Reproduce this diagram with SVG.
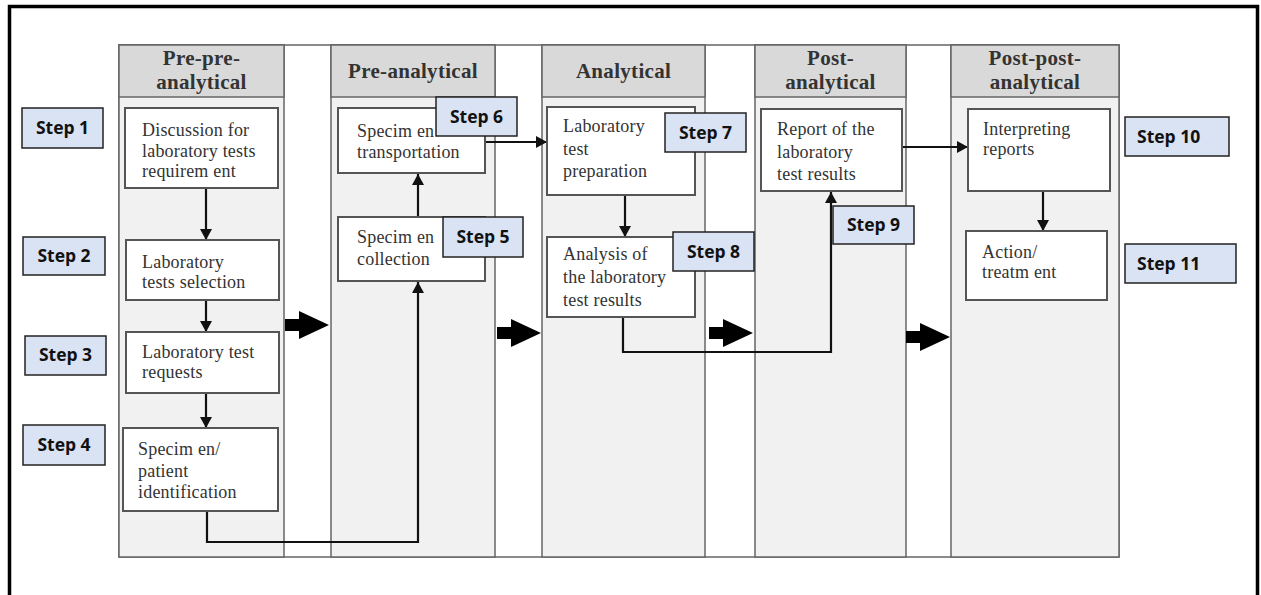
<svg xmlns="http://www.w3.org/2000/svg" width="1261" height="595" viewBox="0 0 1261 595">
  <style>
    .col { fill: #f1f1f1; stroke: #666; stroke-width: 1.5; }
    .hdr { fill: #d9d9d9; stroke: #666; stroke-width: 1.5; }
    .gap { fill: #ffffff; stroke: #666; stroke-width: 1.5; }
    .htxt { font-family: "Liberation Serif", "Times New Roman", serif; font-weight: bold; font-size: 21px; fill: #333; text-anchor: middle; letter-spacing: 0.3px; }
    .box { fill: #ffffff; stroke: #555; stroke-width: 2; }
    .btxt { font-family: "Liberation Serif", "Times New Roman", serif; font-size: 18px; fill: #333; letter-spacing: 0.2px; }
    .badge { fill: #dae3f3; stroke: #222; stroke-width: 1.5; }
    .stxt { font-family: "Open Sans", "Liberation Sans", sans-serif; font-weight: bold; font-size: 17.5px; fill: #111; }
    .link { fill: none; stroke: #111; stroke-width: 2.2; marker-end: url(#head); }
  </style>
  <defs>
    <marker id="head" markerUnits="userSpaceOnUse" markerWidth="12" markerHeight="12" refX="11" refY="6" orient="auto">
      <path d="M0,0 L11,6 L0,12 z" fill="#111"/>
    </marker>
    <path id="block" d="M0,-6 H14 V-14 L44,0 L14,14 V6 H0 z" fill="#000"/>
  </defs>

  <rect width="1261" height="595" fill="#ffffff"/>
  <!-- outer frame (open at the bottom) -->
  <path d="M9.5,595 V6.5 H1257.5 V595" fill="none" stroke="#000" stroke-width="3.5"/>

  <!-- phase lanes -->
  <g id="lanes">
    <rect class="gap" x="119" y="45" width="1000" height="512"/>
    <rect class="col" x="119" y="45" width="165" height="512"/>
    <rect class="hdr" x="119" y="45" width="165" height="52"/>
    <rect class="col" x="331" y="45" width="164" height="512"/>
    <rect class="hdr" x="331" y="45" width="164" height="52"/>
    <rect class="col" x="542" y="45" width="163" height="512"/>
    <rect class="hdr" x="542" y="45" width="163" height="52"/>
    <rect class="col" x="755" y="45" width="151" height="512"/>
    <rect class="hdr" x="755" y="45" width="151" height="52"/>
    <rect class="col" x="951" y="45" width="168" height="512"/>
    <rect class="hdr" x="951" y="45" width="168" height="52"/>
    <text class="htxt" x="201.5" y="65">Pre-pre-</text>
    <text class="htxt" x="201.5" y="89">analytical</text>
    <text class="htxt" x="413" y="78">Pre-analytical</text>
    <text class="htxt" x="623.5" y="78">Analytical</text>
    <text class="htxt" x="830.5" y="65">Post-</text>
    <text class="htxt" x="830.5" y="89">analytical</text>
    <text class="htxt" x="1035" y="65">Post-post-</text>
    <text class="htxt" x="1035" y="89">analytical</text>
  </g>

  <!-- connectors -->
  <g id="connectors">
    <path class="link" d="M206,189 V240"/>
    <path class="link" d="M206,300 V332"/>
    <path class="link" d="M206,393 V428"/>
    <path class="link" d="M207,511 V542 H418 V282"/>
    <path class="link" d="M418,217 V174"/>
    <path class="link" d="M485,142 H547"/>
    <path class="link" d="M625,195 V237"/>
    <path class="link" d="M623,317 V352 H831 V192"/>
    <path class="link" d="M902,147 H968"/>
    <path class="link" d="M1043,191 V231"/>
    <use href="#block" x="285" y="325"/>
    <use href="#block" x="497" y="333"/>
    <use href="#block" x="709" y="333"/>
    <use href="#block" x="906" y="337"/>
  </g>

  <!-- process boxes -->
  <g id="discussion">
    <rect class="box" x="125" y="108" width="153" height="80"/>
    <text class="btxt" x="142" y="136">Discussion for</text>
    <text class="btxt" x="142" y="157">laboratory tests</text>
    <text class="btxt" x="142" y="177">requirem ent</text>
  </g>
  <g id="selection">
    <rect class="box" x="126" y="240" width="153" height="60"/>
    <text class="btxt" x="142" y="268">Laboratory</text>
    <text class="btxt" x="142" y="288">tests selection</text>
  </g>
  <g id="requests">
    <rect class="box" x="126" y="332" width="153" height="61"/>
    <text class="btxt" x="142" y="358">Laboratory test</text>
    <text class="btxt" x="142" y="378">requests</text>
  </g>
  <g id="identification">
    <rect class="box" x="123" y="428" width="155" height="83"/>
    <text class="btxt" x="138" y="455">Specim en/</text>
    <text class="btxt" x="138" y="477">patient</text>
    <text class="btxt" x="138" y="498">identification</text>
  </g>
  <g id="transportation">
    <rect class="box" x="338" y="108" width="147" height="65"/>
    <text class="btxt" x="357" y="137">Specim en</text>
    <text class="btxt" x="357" y="158">transportation</text>
  </g>
  <g id="collection">
    <rect class="box" x="338" y="217" width="147" height="64"/>
    <text class="btxt" x="357" y="243">Specim en</text>
    <text class="btxt" x="357" y="265">collection</text>
  </g>
  <g id="preparation">
    <rect class="box" x="547" y="107" width="148" height="88"/>
    <text class="btxt" x="563" y="132">Laboratory</text>
    <text class="btxt" x="563" y="155">test</text>
    <text class="btxt" x="563" y="177">preparation</text>
  </g>
  <g id="analysis">
    <rect class="box" x="547" y="237" width="148" height="80"/>
    <text class="btxt" x="563" y="260">Analysis of</text>
    <text class="btxt" x="563" y="283">the laboratory</text>
    <text class="btxt" x="563" y="306">test results</text>
  </g>
  <g id="report">
    <rect class="box" x="761" y="109" width="141" height="82"/>
    <text class="btxt" x="777" y="135">Report of the</text>
    <text class="btxt" x="777" y="158">laboratory</text>
    <text class="btxt" x="777" y="180">test results</text>
  </g>
  <g id="interpreting">
    <rect class="box" x="968" y="109" width="142" height="82"/>
    <text class="btxt" x="983" y="135">Interpreting</text>
    <text class="btxt" x="983" y="155">reports</text>
  </g>
  <g id="action">
    <rect class="box" x="966" y="231" width="141" height="69"/>
    <text class="btxt" x="982" y="258">Action/</text>
    <text class="btxt" x="982" y="278">treatm ent</text>
  </g>

  <!-- step labels -->
  <g id="step1"><rect class="badge" x="22" y="108" width="81" height="40"/><text class="stxt" x="62.5" y="134" text-anchor="middle">Step 1</text></g>
  <g id="step2"><rect class="badge" x="23" y="237" width="82" height="38"/><text class="stxt" x="64" y="262" text-anchor="middle">Step 2</text></g>
  <g id="step3"><rect class="badge" x="25" y="336" width="81" height="39"/><text class="stxt" x="65.5" y="361" text-anchor="middle">Step 3</text></g>
  <g id="step4"><rect class="badge" x="23" y="425" width="82" height="40"/><text class="stxt" x="64" y="451" text-anchor="middle">Step 4</text></g>
  <g id="step5"><rect class="badge" x="443" y="217" width="80" height="40"/><text class="stxt" x="483" y="243" text-anchor="middle">Step 5</text></g>
  <g id="step6"><rect class="badge" x="436" y="97" width="81" height="39"/><text class="stxt" x="476.5" y="123" text-anchor="middle">Step 6</text></g>
  <g id="step7"><rect class="badge" x="665" y="113" width="81" height="39"/><text class="stxt" x="705.5" y="139" text-anchor="middle">Step 7</text></g>
  <g id="step8"><rect class="badge" x="673" y="232" width="81" height="39"/><text class="stxt" x="713.5" y="258" text-anchor="middle">Step 8</text></g>
  <g id="step9"><rect class="badge" x="833" y="206" width="81" height="38"/><text class="stxt" x="873.5" y="231" text-anchor="middle">Step 9</text></g>
  <g id="step10"><rect class="badge" x="1125" y="117" width="104" height="39"/><text class="stxt" x="1137" y="143">Step 10</text></g>
  <g id="step11"><rect class="badge" x="1125" y="244" width="111" height="39"/><text class="stxt" x="1137" y="270">Step 11</text></g>
</svg>
